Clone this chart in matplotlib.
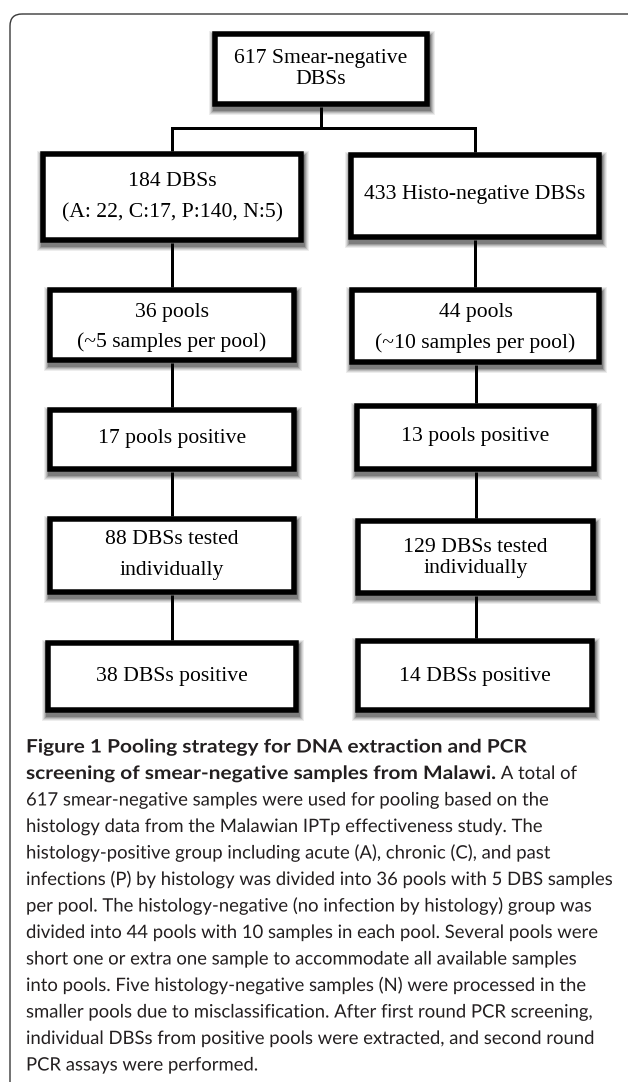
import matplotlib
matplotlib.use("Agg")
import matplotlib.pyplot as plt
from matplotlib.patches import Rectangle, FancyBboxPatch, PathPatch
from matplotlib.textpath import TextPath
from matplotlib.font_manager import FontProperties
from matplotlib.transforms import Affine2D

# ---- content ----
top_label = ["617 Smear-negative", "DBSs"]
left_labels = [["184 DBSs", "(A: 22, C:17, P:140, N:5)"],
               ["36 pools", "(~5 samples per pool)"],
               ["17 pools positive"],
               ["88 DBSs tested", "individually"],
               ["38 DBSs positive"]]
right_labels = [["433 Histo-negative DBSs"],
                ["44 pools", "(~10 samples per pool)"],
                ["13 pools positive"],
                ["129 DBSs tested", "individually"],
                ["14 DBSs positive"]]

caption_bold = ["Figure 1 Pooling strategy for DNA extraction and PCR",
                "screening of smear-negative samples from Malawi."]
caption_rest = [" A total of",
                "617 smear-negative samples were used for pooling based on the",
                "histology data from the Malawian IPTp effectiveness study. The",
                "histology-positive group including acute (A), chronic (C), and past",
                "infections (P) by histology was divided into 36 pools with 5 DBS samples",
                "per pool. The histology-negative (no infection by histology) group was",
                "divided into 44 pools with 10 samples in each pool. Several pools were",
                "short one or extra one sample to accommodate all available samples",
                "into pools. Five histology-negative samples (N) were processed in the",
                "smaller pools due to misclassification. After first round PCR screening,",
                "individual DBSs from positive pools were extracted, and second round",
                "PCR assays were performed."]

# ---- layout (pixels, y down) ----
W, H = 628, 1082
top_box = (212, 31, 430, 107)
left_boxes = [(40, 151, 304, 243), (47, 287, 297, 363), (47, 407, 297, 472),
              (47, 516, 297, 595), (45, 640, 299, 713)]
right_boxes = [(348, 152, 602, 240), (349, 287, 602, 365), (354, 403, 597, 472),
               (355, 518, 596, 596), (355, 638, 595, 713)]
top_text_y = [58, 80]
left_text_y = [[182, 213], [312, 342], [439], [539, 571], [677]]
right_text_y = [[195], [312, 343], [437], [547, 568], [676]]
split_y = 128
box_lw = 5.5
line_lw = 3

fig = plt.figure(figsize=(W / 100, H / 100), dpi=100)
ax = fig.add_axes([0, 0, 1, 1])
ax.set_xlim(0, W)
ax.set_ylim(H, 0)
ax.axis("off")

pt = 72 / 100  # px -> points

# outer rounded frame (cut at right and bottom)
frame = FancyBboxPatch((10, 14), 640, 1100, boxstyle="round,pad=0,rounding_size=12",
                       fill=False, ec="#3a3a3a", lw=1.4 * pt, zorder=1)
ax.add_patch(frame)


def draw_box(b, lines, ys):
    x0, y0, x1, y1 = b
    inset = box_lw / 2
    # soft drop shadow
    for g, a in [(4, 0.07), (3, 0.09), (2, 0.12), (1, 0.16), (0, 0.2)]:
        ax.add_patch(Rectangle((x0 + 1 - g, y0 + 4 - g), x1 - x0 + 2 * g, y1 - y0 + 2 * g,
                               fc="#000000", ec="none", alpha=a, zorder=2))
    ax.add_patch(Rectangle((x0 + inset, y0 + inset), x1 - x0 - box_lw, y1 - y0 - box_lw,
                           fc="white", ec="black", lw=box_lw * pt, zorder=3,
                           joinstyle="miter"))
    cx = (x0 + x1) / 2
    for s, y in zip(lines, ys):
        ax.text(cx, y, s, ha="center", va="center", fontsize=15.6,
                family="Liberation Serif", color="black", zorder=4)


def vline(x, ya, yb):
    ax.plot([x, x], [ya, yb], color="black", lw=line_lw * pt, zorder=2.5,
            solid_capstyle="butt")


# connectors
tcx = (top_box[0] + top_box[2]) / 2
lcx = (left_boxes[0][0] + left_boxes[0][2]) / 2
rcx = (right_boxes[0][0] + right_boxes[0][2]) / 2
vline(tcx, top_box[3], split_y)
ax.plot([lcx, rcx], [split_y, split_y], color="black", lw=line_lw * pt, zorder=2.5,
        solid_capstyle="projecting")
vline(lcx, split_y, left_boxes[0][1])
vline(rcx, split_y, right_boxes[0][1])
for boxes in (left_boxes, right_boxes):
    for a, b in zip(boxes[:-1], boxes[1:]):
        cx = (a[0] + a[2]) / 2
        vline(cx, a[3], b[1])

draw_box(top_box, top_label, top_text_y)
for b, l, y in zip(left_boxes, left_labels, left_text_y):
    draw_box(b, l, y)
for b, l, y in zip(right_boxes, right_labels, right_text_y):
    draw_box(b, l, y)

# ---- caption (drawn as paths so widths can be matched) ----
cap_x = 26
base0 = 752.5
cap_dy = 26.5
cap_color = "#231f20"
fp_reg = FontProperties(family="Lato", weight="normal")
fp_bold = FontProperties(family="Lato", weight="bold")


def path_width(s, fp):
    tp = TextPath((0, 0), s, size=1, prop=fp)
    return tp.vertices[:, 0].max() if len(tp.vertices) else 0


def path_text(x, base, s, fp, size, sx=1.0):
    tp = TextPath((0, 0), s, size=1, prop=fp)
    tr = Affine2D().scale(size * sx, -size).translate(x, base)
    ax.add_patch(PathPatch(tr.transform_path(tp), fc=cap_color, ec="none", lw=0, zorder=4))
    # advance width of the string
    return TextPath((0, 0), s + "|", size=1, prop=fp).vertices[:, 0].max() * size * sx \
        - TextPath((0, 0), "|", size=1, prop=fp).vertices[:, 0].max() * size * sx


size = 586 / path_width(caption_rest[4], fp_reg)
sx_bold = 501 / (path_width(caption_bold[0], fp_bold) * size)

path_text(cap_x, base0, caption_bold[0], fp_bold, size, sx_bold)
adv = path_text(cap_x, base0 + cap_dy, caption_bold[1], fp_bold, size, sx_bold)
path_text(cap_x + adv, base0 + cap_dy, caption_rest[0], fp_reg, size)
for i, s in enumerate(caption_rest[1:]):
    path_text(cap_x, base0 + cap_dy * (i + 2), s, fp_reg, size)

fig.savefig("out.png", dpi=100)
